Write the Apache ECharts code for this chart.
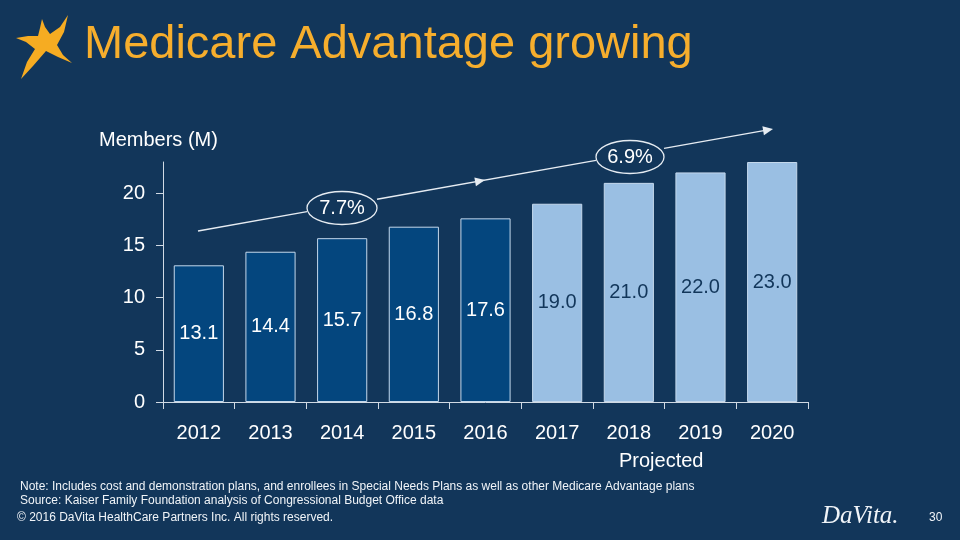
<!DOCTYPE html>
<html>
<head>
<meta charset="utf-8">
<script src="https://cdn.jsdelivr.net/npm/echarts@6/dist/echarts.min.js"></script>
<style>
html,body{margin:0;padding:0;background:#12365A;}
#c{width:960px;height:540px;}
</style>
</head>
<body>
<div id="c"></div>
<script>
// ---- data ----
var years = ['2012','2013','2014','2015','2016','2017','2018','2019','2020'];
var members = [13.1, 14.4, 15.7, 16.8, 17.6, 19.0, 21.0, 22.0, 23.0];
var projected = [false, false, false, false, false, true, true, true, true];
var yTicks = [0, 5, 10, 15, 20];
var growthLabels = ['7.7%', '6.9%'];

var BG = '#12365A';
var DARK = '#04467E';
var LIGHT = '#9ABFE3';
var FONT = 'Liberation Sans, Arial, sans-serif';

var barData = members.map(function (v, i) {
  return {
    value: v,
    itemStyle: { color: projected[i] ? LIGHT : DARK },
    label: { color: projected[i] ? '#12365A' : '#FFFFFF' }
  };
});

// arrow helper (annotation, not data)
function arrowHead(tx, ty, ux, uy) {
  var L = 10, W = 4.5;
  var bx = tx - L * ux, by = ty - L * uy;
  var nx = -uy, ny = ux;
  return [[tx, ty], [bx + W * nx, by + W * ny], [bx - W * nx, by - W * ny]];
}
var p0 = [198, 231], p1 = [773, 129];
var dlen = Math.hypot(p1[0] - p0[0], p1[1] - p0[1]);
var ux = (p1[0] - p0[0]) / dlen, uy = (p1[1] - p0[1]) / dlen;
function ptAtX(x) { return [x, p0[1] + (x - p0[0]) * uy / ux]; }

var lineStyle = { stroke: '#E6ECF2', lineWidth: 1.3 };
var ell1 = [342, 208], ell2 = [630, 157];

var starPts = [[42,19],[45,27],[50,34],[60,27],[68,15],[64,32],[57,45],[63,55],[72,63],[58,57],[46,51],[33,66],[21,79],[27,62],[35,49],[26,42],[16,38],[28,36],[38,36],[40,28]];

var chart = echarts.init(document.getElementById('c'), null, { renderer: 'canvas' });
chart.setOption({
  backgroundColor: BG,
  animation: false,
  textStyle: { fontFamily: FONT },
  grid: { left: 163, right: 152, top: 162, bottom: 138, containLabel: false },
  xAxis: {
    type: 'category',
    data: years,
    axisLine: { show: true, lineStyle: { color: '#D0DAE4', width: 1 } },
    axisTick: { show: true, alignWithLabel: false, length: 7, lineStyle: { color: '#D0DAE4' } },
    axisLabel: { color: '#FFFFFF', fontSize: 20, margin: 21, fontFamily: FONT }
  },
  yAxis: {
    type: 'value',
    min: 0,
    max: 23,
    interval: 5,
    splitLine: { show: false },
    axisLine: { show: true, lineStyle: { color: '#D0DAE4', width: 1 } },
    axisTick: { show: true, length: 7, customValues: yTicks, lineStyle: { color: '#D0DAE4' } },
    axisLabel: { color: '#FFFFFF', fontSize: 20, margin: 18, customValues: yTicks, fontFamily: FONT }
  },
  series: [{
    type: 'bar',
    data: barData,
    barWidth: '70%',
    itemStyle: { borderColor: '#C4D8EC', borderWidth: 1 },
    label: { show: true, position: 'inside', fontSize: 20, fontFamily: FONT, formatter: function (p) { return p.value.toFixed(1); } }
  }],
  graphic: [
    // star logo
    { type: 'polygon', shape: { points: starPts }, style: { fill: '#F6AC22' } },
    // title
    { type: 'text', left: 84, top: 22, style: { text: 'Medicare Advantage growing', fill: '#F6AE2D', font: '47px Liberation Sans, Arial, sans-serif' } },
    // axis title
    { type: 'text', left: 99, top: 130, style: { text: 'Members (M)', fill: '#FFFFFF', font: '20px Liberation Sans, Arial, sans-serif' } },
    // Projected
    { type: 'text', left: 619, top: 451, style: { text: 'Projected', fill: '#FFFFFF', font: '20px Liberation Sans, Arial, sans-serif' } },
    // arrows
    { type: 'line', shape: { x1: p0[0], y1: p0[1], x2: ell1[0] - 35, y2: ptAtX(ell1[0] - 35)[1] }, style: lineStyle },
    { type: 'line', shape: { x1: ell1[0] + 35, y1: ptAtX(ell1[0] + 35)[1], x2: ell2[0] - 34, y2: ptAtX(ell2[0] - 34)[1] }, style: lineStyle },
    { type: 'line', shape: { x1: ell2[0] + 34, y1: ptAtX(ell2[0] + 34)[1], x2: p1[0] - 5, y2: ptAtX(p1[0] - 5)[1] }, style: lineStyle },
    { type: 'polygon', shape: { points: arrowHead(485, ptAtX(485)[1], ux, uy) }, style: { fill: '#E6ECF2' } },
    { type: 'polygon', shape: { points: arrowHead(p1[0], p1[1], ux, uy) }, style: { fill: '#E6ECF2' } },
    { type: 'ellipse', shape: { cx: ell1[0], cy: ell1[1], rx: 35, ry: 16.5 }, style: { fill: BG, stroke: '#E6ECF2', lineWidth: 1.3 } },
    { type: 'ellipse', shape: { cx: ell2[0], cy: ell2[1], rx: 34, ry: 16.5 }, style: { fill: BG, stroke: '#E6ECF2', lineWidth: 1.3 } },
    { type: 'text', x: ell1[0], y: ell1[1], style: { text: growthLabels[0], fill: '#FFFFFF', font: '20px Liberation Sans, Arial, sans-serif', align: 'center', verticalAlign: 'middle' } },
    { type: 'text', x: ell2[0], y: ell2[1], style: { text: growthLabels[1], fill: '#FFFFFF', font: '20px Liberation Sans, Arial, sans-serif', align: 'center', verticalAlign: 'middle' } },
    // footer
    { type: 'text', left: 20, top: 481, style: { text: 'Note: Includes cost and demonstration plans, and enrollees in Special Needs Plans as well as other Medicare Advantage plans', fill: '#F0F4F8', font: '12px Liberation Sans, Arial, sans-serif' } },
    { type: 'text', left: 20, top: 495, style: { text: 'Source: Kaiser Family Foundation analysis of Congressional Budget Office data', fill: '#F0F4F8', font: '12px Liberation Sans, Arial, sans-serif' } },
    { type: 'text', left: 17, top: 512, style: { text: '\u00A9 2016 DaVita HealthCare Partners Inc. All rights reserved.', fill: '#F0F4F8', font: '12px Liberation Sans, Arial, sans-serif' } },
    { type: 'text', left: 822, top: 504, style: { text: 'DaVita.', fill: '#F0F4F8', font: 'italic 25px Liberation Serif, DejaVu Serif, serif' } },
    { type: 'text', left: 929, top: 512, style: { text: '30', fill: '#F0F4F8', font: '12px Liberation Sans, Arial, sans-serif' } }
  ]
});
</script>
</body>
</html>
